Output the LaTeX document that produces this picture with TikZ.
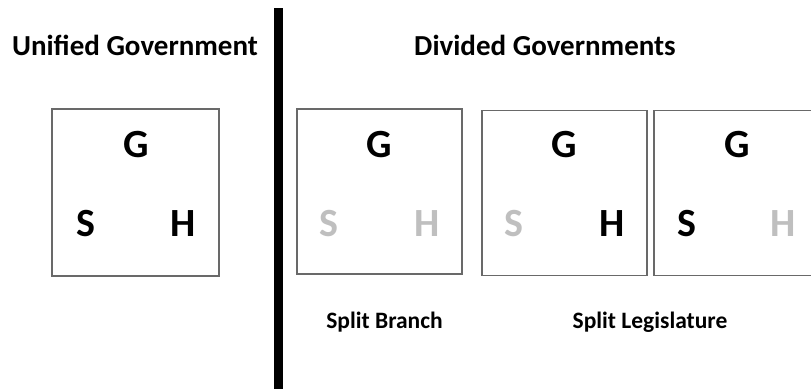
\documentclass[tikz,border=0pt]{standalone}
\usepackage{fontspec}
\setmainfont{Carlito}
\definecolor{boxline}{RGB}{105,105,105}
\definecolor{faded}{RGB}{191,191,191}
\tikzset{
  govbox/.style={draw=boxline, line width=1.2pt, minimum width=#1, minimum height=#1, inner sep=0pt},
  letter/.style={font=\fontsize{40}{40}\selectfont\bfseries, anchor=base, inner sep=0pt, text=black},
  dim/.style={text=faded},
  title/.style={font=\fontsize{29}{29}\selectfont\bfseries, anchor=base, inner sep=0pt},
  caption/.style={font=\fontsize{23.5}{23.5}\selectfont\bfseries, anchor=base, inner sep=0pt},
}
\begin{document}
\begin{tikzpicture}[x=1pt,y=-1pt]
\useasboundingbox (0,0) rectangle (811,389);
\clip (0,0) rectangle (811,389);
\fill[white] (0,0) rectangle (811,389);

% divider
\coordinate (dtop) at (278.5,8);
\coordinate (dbot) at (278.5,389);
\draw[line width=9pt] (dtop) -- (dbot);

% titles
\node[title] (tu) at (135,55) {Unified Government};
\node[title] (td) at (545,55) {Divided Governments};

% unified box
\node[govbox=167pt] (b1) at (135.5,192.5) {};
\node[letter] (g1) at (136,157) {G};
\node[letter] (s1) at (86,236) {S};
\node[letter] (h1) at (183,236) {H};

% split branch box
\node[govbox=165pt] (b2) at (379.5,191.5) {};
\node[letter] (g2) at (379,157) {G};
\node[letter,dim] (s2) at (329,236) {S};
\node[letter,dim] (h2) at (427,236) {H};

% split legislature boxes
\node[govbox=165pt] (b3) at (564.5,193) {};
\node[letter] (g3) at (564,157) {G};
\node[letter,dim] (s3) at (514,236) {S};
\node[letter] (h3) at (612,236) {H};

\node[govbox=165pt] (b4) at (736.5,193) {};
\node[letter] (g4) at (737,157) {G};
\node[letter] (s4) at (687,236) {S};
\node[letter,dim] (h4) at (783,236) {H};

% captions
\node[caption] (cb) at (384.5,328) {Split Branch};
\node[caption] (cl) at (650,328) {Split Legislature};
\end{tikzpicture}
\end{document}
